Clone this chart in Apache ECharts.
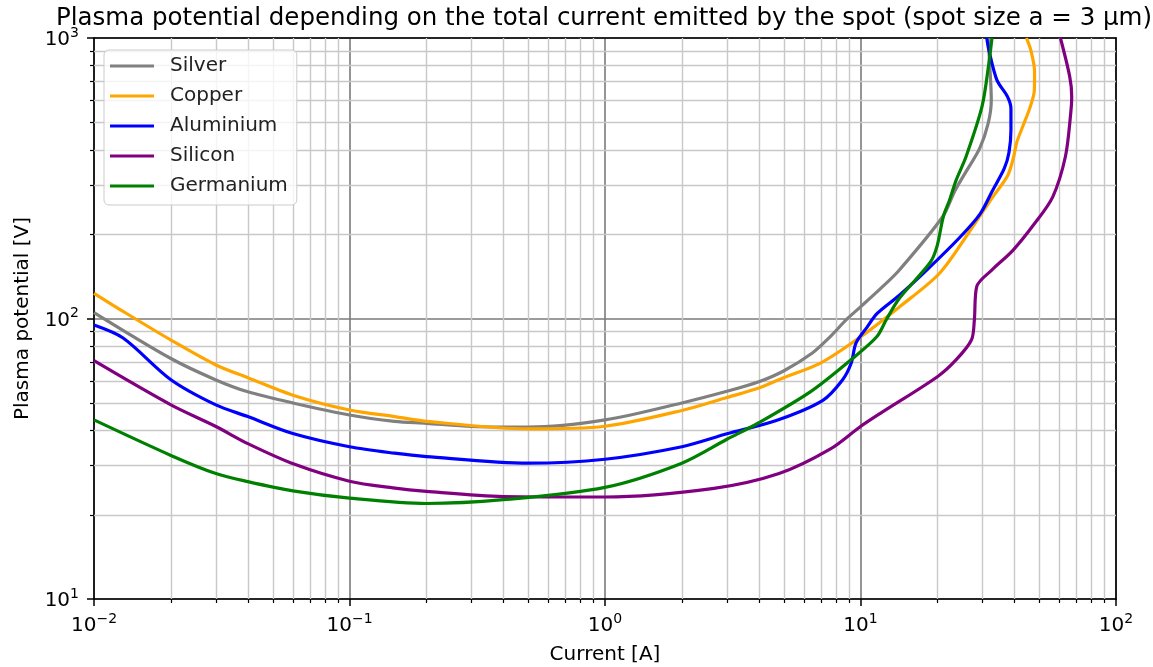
<!DOCTYPE html>
<html><head><meta charset="utf-8">
<script src="https://cdn.jsdelivr.net/npm/echarts@6/dist/echarts.min.js"></script>
<style>html,body{margin:0;padding:0;background:#fff}#c{width:1153px;height:667px}</style>
</head><body><div id="c"></div>
<script>
// ---- data (Current [A], Plasma potential [V]) ----
const seriesNames = ['Silver', 'Copper', 'Aluminium', 'Silicon', 'Germanium'];
const seriesColors = ['#808080', '#ffa500', '#0000ff', '#800080', '#008000'];

const silver = [[0.01,105],[0.02,72],[0.03,60.4],[0.04,54.8],[0.06,50],[0.1,45.3],[0.15,43],[0.2,42.3],[0.3,41.2],[0.5,41],[1,43.5],[2,50],[3,55],[4,59.5],[5,65],[6.5,75.5],[7.6,86],[8.8,99],[10,110],[12,128],[14.2,149],[21,231],[23.4,285],[26.1,338],[29.3,405],[31.6,496],[32.5,600],[32.3,708],[31.6,1000]];
const copper = [[0.01,123],[0.013,106],[0.02,83.8],[0.03,68.3],[0.04,61.5],[0.06,53.3],[0.1,47.2],[0.15,44.7],[0.2,43],[0.5,40.4],[1,41.3],[2,47],[3,52.3],[4,56.5],[5,61.5],[7,69.5],[10,86],[14.2,110],[20.4,145],[26.6,203],[32.8,270],[37.6,322],[39.7,375],[40.9,425],[43.4,490],[45.9,560],[47.9,650],[48,760],[46.5,900],[44.6,1000]];
const aluminium = [[0.01,94.8],[0.013,85.2],[0.02,60.5],[0.03,49.2],[0.04,44.7],[0.06,38.9],[0.1,34.9],[0.15,33.1],[0.2,32.2],[0.5,30.5],[1,31.5],[2,34.9],[3,38.8],[4.68,43.3],[7.1,51],[8.5,60.4],[9.2,69.4],[9.6,81.7],[10.6,93],[11.6,104],[14.2,121],[18.2,149],[24.4,194],[29.3,235],[32.8,285],[36.5,342],[38.1,390],[38.8,470],[38.8,560],[37.6,618],[34.2,708],[31.8,906],[31.2,1000]];
const silicon = [[0.01,70.7],[0.02,49.2],[0.03,41.2],[0.04,35.8],[0.061,30.2],[0.1,26.3],[0.148,24.9],[0.2,24.2],[0.4,23.2],[1,23.1],[2.67,24.8],[4.8,28],[7.6,34.2],[10,41.2],[12,46],[20,62],[23.7,71.3],[27.2,84],[27.9,98.8],[28.5,130],[32.7,149],[39.5,175],[48,218],[56.5,271],[63.4,378],[66.5,539],[67.1,618],[65.9,728],[60.6,1000]];
const germanium = [[0.01,43.5],[0.02,32.5],[0.03,28],[0.04,26.2],[0.06,24.3],[0.1,22.9],[0.2,21.9],[0.4,22.6],[1,25],[2,30.5],[3,37.1],[4,42.5],[6.4,55],[9.3,72],[11.6,86.3],[12.6,98.8],[14.2,118],[18.7,158],[19.9,180],[21.1,231],[22.3,264],[23.7,312],[25.9,378],[29.9,570],[31.8,813],[32.7,1000]];

// ---- axes ----
const xMin = 0.01, xMax = 100;
const yMin = 10, yMax = 1000;
const xMinorTicks = [0.02,0.03,0.04,0.05,0.06,0.07,0.08,0.09,0.2,0.3,0.4,0.5,0.6,0.7,0.8,0.9,2,3,4,5,6,7,8,9,20,30,40,50,60,70,80,90];
const yMinorTicks = [20,30,40,50,60,70,80,90,200,300,400,500,600,700,800,900];

const titleText = 'Plasma potential depending on the total current emitted by the spot (spot size a = 3 µm)';
const xName = 'Current [A]';
const yName = 'Plasma potential [V]';

const FONT = 'DejaVu Sans';
const allData = [silver, copper, aluminium, silicon, germanium];
const MAJOR_GRID = '#7a7a7a';
const MINOR_GRID = '#c8c8c8';

function expLabel(v) {
  const e = Math.round(Math.log10(v));
  return '{b|10}{s|' + (e < 0 ? '\u2212' + (-e) : e) + '}';
}
const richLabel = {
  b: {fontFamily: FONT, fontSize: 20, lineHeight: 24, verticalAlign: 'bottom', color: '#000'},
  s: {fontFamily: FONT, fontSize: 14, lineHeight: 8, verticalAlign: 'top', color: '#000'}
};

const chart = echarts.init(document.getElementById('c'), null, {renderer: 'canvas'});

const lineSeries = seriesNames.map((n, i) => ({
  name: n, type: 'line', data: allData[i], xAxisIndex: 0, yAxisIndex: 0,
  symbol: 'none', showSymbol: false, smooth: 0.3,
  lineStyle: {color: seriesColors[i], width: 3.2},
  itemStyle: {color: seriesColors[i]},
  z: 3, clip: true
}));

function crisp(v) { return Math.round(v) + 0.5; }

const xMinorSeries = {
  type: 'custom', name: '_xminor', coordinateSystem: 'cartesian2d', silent: true, z: 1,
  data: xMinorTicks.map(v => [v, yMin]),
  renderItem: (params, api) => {
    const v = api.value(0);
    const top = api.coord([v, yMax]);
    const bot = api.coord([v, yMin]);
    const x = crisp(top[0]);
    return {type: 'group', children: [
      {type: 'line', shape: {x1: x, y1: top[1], x2: x, y2: bot[1]}, style: {stroke: MINOR_GRID, lineWidth: 1.4}},
      {type: 'line', shape: {x1: x, y1: bot[1], x2: x, y2: bot[1] + 4}, style: {stroke: '#000', lineWidth: 1.2}}
    ]};
  }
};
const yMinorSeries = {
  type: 'custom', name: '_yminor', coordinateSystem: 'cartesian2d', silent: true, z: 1,
  data: yMinorTicks.map(v => [xMin, v]),
  renderItem: (params, api) => {
    const v = api.value(1);
    const l = api.coord([xMin, v]);
    const r = api.coord([xMax, v]);
    const y = crisp(l[1]);
    return {type: 'group', children: [
      {type: 'line', shape: {x1: l[0], y1: y, x2: r[0], y2: y}, style: {stroke: MINOR_GRID, lineWidth: 1.4}},
      {type: 'line', shape: {x1: l[0] - 4, y1: y, x2: l[0], y2: y}, style: {stroke: '#000', lineWidth: 1.2}}
    ]};
  }
};

const frameAxis = {
  axisLine: {show: true, lineStyle: {color: '#000', width: 1.6}},
  axisTick: {show: false}, axisLabel: {show: false}, splitLine: {show: false}
};

chart.setOption({
  animation: false,
  backgroundColor: '#fff',
  textStyle: {fontFamily: FONT},
  title: {
    text: titleText, left: 604, top: 6, padding: 0, textAlign: 'center',
    textStyle: {fontFamily: FONT, fontSize: 24.5, fontWeight: 'normal', color: '#000'}
  },
  grid: {left: 94, right: 37, top: 38, bottom: 68, show: false, containLabel: false, outerBoundsMode: 'none'},
  legend: {
    data: seriesNames, orient: 'vertical', left: 104, top: 50,
    icon: 'rect', itemWidth: 44, itemHeight: 3, itemGap: 10,
    padding: [6, 9, 9, 6],
    backgroundColor: 'rgba(255,255,255,0.8)', borderColor: '#cccccc', borderWidth: 1, borderRadius: 5,
    textStyle: {fontFamily: FONT, fontSize: 20, lineHeight: 20, color: '#222', padding: [0, 0, 0, 11]}
  },
  xAxis: [{
    type: 'log', logBase: 10, min: xMin, max: xMax, position: 'bottom',
    name: xName, nameLocation: 'middle', nameGap: 46,
    nameTextStyle: {fontFamily: FONT, fontSize: 20, color: '#000'},
    axisLine: {show: true, lineStyle: {color: '#000', width: 1.6}},
    axisTick: {show: true, length: 7, lineStyle: {color: '#000', width: 1.5}},
    axisLabel: {margin: 13, formatter: expLabel, rich: richLabel},
    splitLine: {show: true, lineStyle: {color: MAJOR_GRID, width: 1.6}},
    minorTick: {show: false}, minorSplitLine: {show: false}
  }, Object.assign({type: 'log', logBase: 10, min: xMin, max: xMax, position: 'top'}, frameAxis)],
  yAxis: [{
    type: 'log', logBase: 10, min: yMin, max: yMax, position: 'left',
    name: yName, nameLocation: 'middle', nameGap: 61, nameRotate: 90,
    nameTextStyle: {fontFamily: FONT, fontSize: 20, color: '#000'},
    axisLine: {show: true, lineStyle: {color: '#000', width: 1.6}},
    axisTick: {show: true, length: 7, lineStyle: {color: '#000', width: 1.5}},
    axisLabel: {margin: 15, formatter: expLabel, rich: richLabel},
    splitLine: {show: true, lineStyle: {color: MAJOR_GRID, width: 1.6}},
    minorTick: {show: false}, minorSplitLine: {show: false}
  }, Object.assign({type: 'log', logBase: 10, min: yMin, max: yMax, position: 'right'}, frameAxis)],
  series: [xMinorSeries, yMinorSeries].concat(lineSeries)
});
</script>
</body></html>
